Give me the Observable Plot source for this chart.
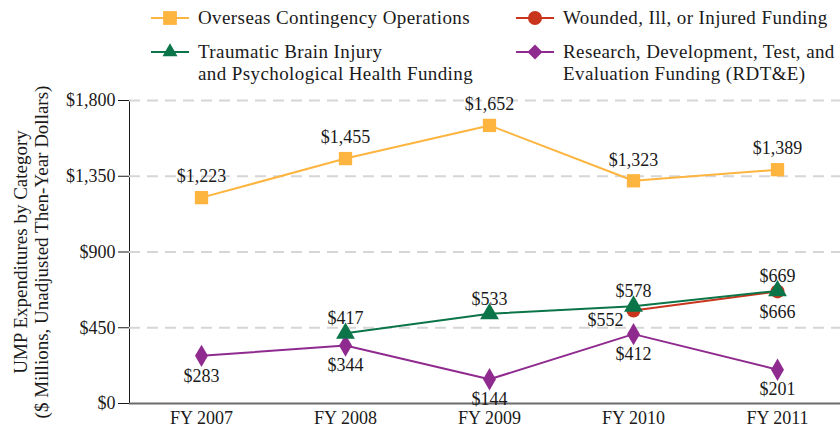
<!DOCTYPE html>
<html><head><meta charset="utf-8">
<script src="https://cdn.jsdelivr.net/npm/d3@7"></script>
<script src="https://cdn.jsdelivr.net/npm/@observablehq/plot@0.6"></script>
<style>
body{margin:0;background:#fff;}
#wrap{position:relative;width:840px;height:430px;font-family:"Liberation Serif",serif;color:#1a1a1a;}
.leg{position:absolute;display:flex;align-items:flex-start;font-size:19px;letter-spacing:0.4px;line-height:22px;}
.leg svg{flex:none;}
.leg span{margin-left:8px;white-space:nowrap;}
#chart{position:absolute;left:0;top:0;}
</style></head>
<body><div id="wrap"><div id="chart"></div></div>
<script>
const years = ["FY 2007", "FY 2008", "FY 2009", "FY 2010", "FY 2011"];
const ocoValues = [1223, 1455, 1652, 1323, 1389];
const wiiYears = ["FY 2010", "FY 2011"];
const wiiValues = [552, 666];
const tbiYears = ["FY 2008", "FY 2009", "FY 2010", "FY 2011"];
const tbiValues = [417, 533, 578, 669];
const rdteValues = [283, 344, 144, 412, 201];
const yTicks = [0, 450, 900, 1350, 1800];
const seriesNames = ["Overseas Contingency Operations", "Wounded, Ill, or Injured Funding",
  "Traumatic Brain Injury\nand Psychological Health Funding", "Research, Development, Test, and\nEvaluation Funding (RDT&E)"];
const colors = ["#FDB53F", "#C8341C", "#0B7448", "#8F2A8F"];
const symbols = ["square", "circle", "triangle", "diamond"];

const fmt = v => "$" + d3.format(",")(v);
const oco = years.map((year, i) => ({year, value: ocoValues[i]}));
const wii = wiiYears.map((year, i) => ({year, value: wiiValues[i]}));
const tbi = tbiYears.map((year, i) => ({year, value: tbiValues[i]}));
const rdte = years.map((year, i) => ({year, value: rdteValues[i]}));

const font = "Liberation Serif, serif";
const txt = {x: "year", y: "value", text: d => fmt(d.value), fontSize: 18, fill: "#1a1a1a"};

const chart = Plot.plot({
  width: 840, height: 430,
  marginTop: 100, marginBottom: 27, marginLeft: 129, marginRight: 0,
  style: {fontFamily: font, fontSize: "18px", color: "#1a1a1a", background: "transparent"},
  x: {type: "point", domain: years, range: [200, 777], padding: 0, label: null, tickSize: 0, tickPadding: 8},
  y: {domain: [0, 1800], ticks: yTicks, tickFormat: fmt, tickSize: 11, tickPadding: 3, label: null, line: true},
  marks: [
    Plot.gridY(yTicks.filter(d => d > 0), {stroke: "#d6d6d6", strokeOpacity: 1, strokeWidth: 2, strokeDasharray: "11,7"}),
    Plot.ruleY([0], {stroke: "#6b6b6b", strokeWidth: 2}),
    Plot.text(["UMP Expenditures by Category\n($ Millions, Unadjusted Then-Year Dollars)"],
      {frameAnchor: "left", textAnchor: "middle", lineAnchor: "middle", dx: -99, rotate: -90, fontSize: 19, lineHeight: 1.1, fill: "#1a1a1a"}),
    Plot.line(oco, {x: "year", y: "value", stroke: colors[0], strokeWidth: 2}),
    Plot.dot(oco, {x: "year", y: "value", symbol: symbols[0], r: 7.5, fill: colors[0]}),
    Plot.line(rdte, {x: "year", y: "value", stroke: colors[3], strokeWidth: 2}),
    Plot.dot(rdte, {x: "year", y: "value", symbol: symbols[3], r: 6.8, fill: colors[3]}),
    Plot.line(wii, {x: "year", y: "value", stroke: colors[1], strokeWidth: 2}),
    Plot.dot(wii, {x: "year", y: "value", symbol: symbols[1], r: 7, fill: colors[1]}),
    Plot.line(tbi, {x: "year", y: "value", stroke: colors[2], strokeWidth: 2}),
    Plot.dot(tbi, {x: "year", y: "value", symbol: symbols[2], r: 7, fill: colors[2]}),
    Plot.text(oco, {...txt, dy: -21}),
    Plot.text(rdte, {...txt, dy: 20}),
    Plot.text(tbi, {...txt, dy: -15}),
    Plot.text(wii.slice(0, 1), {...txt, dx: -10, dy: 10, textAnchor: "end"}),
    Plot.text(wii.slice(1), {...txt, dy: 21})
  ]
});
document.getElementById("chart").appendChild(chart);

// legend
const wrap = document.getElementById("wrap");
const legPos = [[150, 7], [515, 7], [150, 41], [515, 41]];
const d3sym = {square: d3.symbolSquare, circle: d3.symbolCircle, triangle: d3.symbolTriangle2, diamond: d3.symbolDiamond2};
const symSize = {square: 190, circle: 154, triangle: 160, diamond: 145};
seriesNames.forEach((name, i) => {
  const div = document.createElement("div");
  div.className = "leg";
  div.style.left = legPos[i][0] + "px";
  div.style.top = legPos[i][1] + "px";
  const svg = d3.create("svg").attr("width", 40).attr("height", 22);
  svg.append("line").attr("x1", 1).attr("x2", 39).attr("y1", 11).attr("y2", 11)
    .attr("stroke", colors[i]).attr("stroke-width", 2);
  svg.append("path").attr("transform", "translate(20,11)")
    .attr("d", d3.symbol(d3sym[symbols[i]], symSize[symbols[i]])()).attr("fill", colors[i]);
  div.appendChild(svg.node());
  const span = document.createElement("span");
  span.innerHTML = name.split("\n").map(s => s.replace(/&/g, "&amp;")).join("<br>");
  div.appendChild(span);
  wrap.appendChild(div);
});
</script>
</body></html>
